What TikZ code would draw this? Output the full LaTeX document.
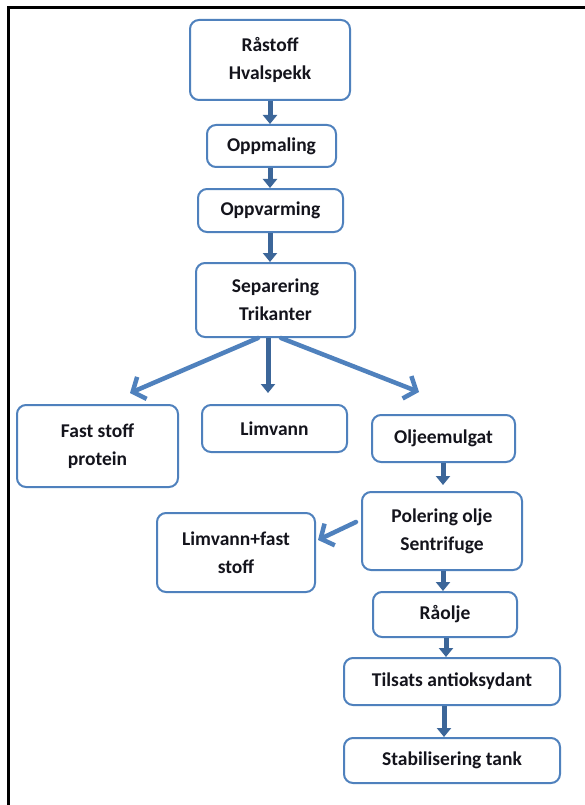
\documentclass[tikz,border=0pt]{standalone}
\usepackage{fontspec}
\setmainfont{Carlito}
\usetikzlibrary{arrows.meta}
\definecolor{boxblue}{HTML}{4F81BD}
\definecolor{arrdark}{HTML}{3C6699}
\definecolor{txt}{HTML}{14141C}
\begin{document}
\begin{tikzpicture}[x=1pt,y=-1pt,
  box/.style={draw=boxblue,line width=2pt,rounded corners=9pt,fill=white,
    text=txt,font=\fontsize{19.5}{28}\selectfont\bfseries,align=center,
    inner sep=0pt,minimum width=#1},
  box/.default=140pt,
  darr/.style={draw=arrdark,line width=5pt,-{Triangle[width=14pt,length=9pt]}},
  larr/.style={draw=boxblue,line width=4.5pt,line cap=round,-{Straight Barb[length=10pt,width=24pt,line width=4.5pt]}}]
\useasboundingbox (0,0) rectangle (585,805);
\fill[white] (0,0) rectangle (585,805);
\draw[line width=3pt,black] (8,805) -- (8,8) -- (585,8);
% nodes
\node[box=160pt,minimum height=80pt] (r) at (270,60) {Råstoff\\Hvalspekk};
\node[box=129pt,minimum height=42pt] (om) at (271.5,146) {Oppmaling};
\node[box=145pt,minimum height=43pt] (ov) at (270.5,210.5) {Oppvarming};
\node[box=159pt,minimum height=74pt] (sep) at (275.5,300) {Separering\\Trikanter};
\node[box=161pt,minimum height=82pt] (fs) at (97.5,446) {Fast stoff\\protein};
\node[box=145pt,minimum height=47pt] (lv) at (274.5,428.5) {Limvann};
\node[box=143pt,minimum height=47pt] (oe) at (443.5,438.5) {Oljeemulgat};
\node[box=160pt,minimum height=78pt] (pol) at (442,531) {Polering olje\\Sentrifuge};
\node[box=158pt,minimum height=79pt] (lf) at (236,552.5) {Limvann+fast\\stoff};
\node[box=144pt,minimum height=45pt] (ro) at (445,614.5) {Råolje};
\node[box=216pt,minimum height=47pt] (ti) at (452,681.5) {Tilsats antioksydant};
\node[box=216pt,minimum height=45pt] (st) at (452,760.5) {Stabilisering tank};
% coordinates
\coordinate (sepL) at (258,338);
\coordinate (sepR) at (281,338);
\coordinate (tipL) at (130,393);
\coordinate (tipR) at (419,392);
\coordinate (polL) at (356,522);
\coordinate (tipP) at (318,540);
% connectors
\draw[darr] (r.south) -- (r.south |- om.north);
\draw[darr] (om.south -| 270,0) -- (270,0 |- ov.north);
\draw[darr] (ov.south -| 270,0) -- (270,0 |- sep.north);
\draw[darr] (sep.south -| 268,0) -- (268,393);
\draw[larr] (sepL) -- (tipL);
\draw[larr] (sepR) -- (tipR);
\draw[darr] (oe.south -| 443,0) -- (443,485);
\draw[larr] (polL) -- (tipP);
\draw[darr] (pol.south -| 443,0) -- (443,0 |- ro.north);
\draw[darr] (ro.south -| 446,0) -- (446,0 |- ti.north);
\draw[darr] (ti.south -| 444,0) -- (444,0 |- st.north);
\end{tikzpicture}
\end{document}
